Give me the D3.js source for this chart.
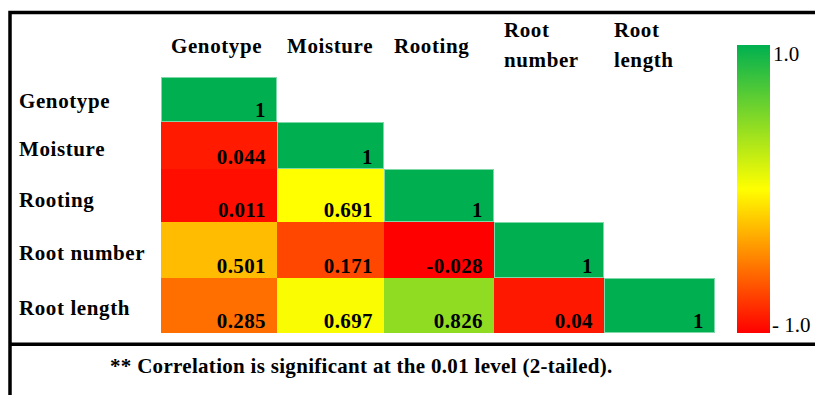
<!DOCTYPE html>
<html>
<head>
<meta charset="utf-8">
<script src="https://d3js.org/d3.v7.min.js"></script>
<style>
  body { margin: 0; background: white; }
  svg { font-family: 'Liberation Serif', 'Times New Roman', serif; }
  .lbl { font-size: 21px; font-weight: bold; fill: black; letter-spacing: 0.6px; }
  .val { font-size: 21px; font-weight: bold; fill: black; text-anchor: end; letter-spacing: 0.4px; }
  .note { font-size: 21px; font-weight: bold; fill: black; letter-spacing: 0.3px; }
</style>
</head>
<body>
<svg width="815" height="395"></svg>
<script>
// variables (rows and columns)
var vars = ["Genotype", "Moisture", "Rooting", "Root number", "Root length"];
// header text, split on two lines where the picture does
var headers = [["Genotype"], ["Moisture"], ["Rooting"], ["Root", "number"], ["Root", "length"]];
// lower triangle of the correlation matrix, row by row
var corr = [
  [1],
  [0.044, 1],
  [0.011, 0.691, 1],
  [0.501, 0.171, -0.028, 1],
  [0.285, 0.697, 0.826, 0.04, 1]
];
var legendTicks = ["1.0", "- 1.0"];
var footnote = "** Correlation is significant at the 0.01 level (2-tailed).";

var svg = d3.select("svg");

// frame
svg.append("rect").attr("x", 10).attr("y", 12.5).attr("width", 900).attr("height", 500)
  .attr("fill", "none").attr("stroke", "black").attr("stroke-width", 3.5);
svg.append("line").attr("x1", 10).attr("x2", 815).attr("y1", 344.3).attr("y2", 344.3)
  .attr("stroke", "black").attr("stroke-width", 3.5);

// cell layout
var x = d3.scaleOrdinal().domain(vars).range([161, 277, 384, 494, 604]);
var xEnd = d3.scaleOrdinal().domain(vars).range([277, 384, 494, 604, 715]);
var y = d3.scaleOrdinal().domain(vars).range([77, 122, 169, 222, 278]);
var yEnd = d3.scaleOrdinal().domain(vars).range([122, 169, 222, 278, 333]);

// Excel-like 3 colour scale: min, median, max
var all = corr.flat();
var color = d3.scaleLinear()
  .domain([d3.min(all), d3.median(all), d3.max(all)])
  .range(["#ff0000", "#ffff00", "#00b050"]);

var cells = [];
corr.forEach(function (row, i) {
  row.forEach(function (v, j) {
    cells.push({ r: vars[i], c: vars[j], v: v });
  });
});

var g = svg.append("g");
g.selectAll("rect.cell").data(cells).enter().append("rect")
  .attr("class", "cell")
  .attr("x", function (d) { return x(d.c); })
  .attr("y", function (d) { return y(d.r); })
  .attr("width", function (d) { return xEnd(d.c) - x(d.c); })
  .attr("height", function (d) { return yEnd(d.r) - y(d.r); })
  .attr("fill", function (d) { return color(d.v); });

// light edge round the diagonal cells
g.selectAll("rect.edge").data(cells.filter(function (d) { return d.r === d.c; })).enter().append("rect")
  .attr("class", "edge")
  .attr("x", function (d) { return x(d.c) + 0.5; })
  .attr("y", function (d) { return y(d.r) + 0.5; })
  .attr("width", function (d) { return xEnd(d.c) - x(d.c) - 1; })
  .attr("height", function (d) { return yEnd(d.r) - y(d.r) - 1; })
  .attr("fill", "none").attr("stroke", "#7fd8a7").attr("stroke-width", 1);

g.selectAll("text.val").data(cells).enter().append("text")
  .attr("class", "val")
  .attr("x", function (d) { return xEnd(d.c) - 11; })
  .attr("y", function (d) { return yEnd(d.r) - 5; })
  .text(function (d) { return d.v; });

// row labels
var rowBase = d3.scaleOrdinal().domain(vars).range([108, 156, 207, 260, 315]);
svg.selectAll("text.row").data(vars).enter().append("text")
  .attr("class", "lbl")
  .attr("x", 19)
  .attr("y", function (d) { return rowBase(d); })
  .text(function (d) { return d; });

// column headers
headers.forEach(function (lines, j) {
  var t = svg.append("text").attr("class", "lbl")
    .attr("x", x(vars[j]) + 10)
    .attr("y", lines.length === 1 ? 53 : 37);
  lines.forEach(function (s, k) {
    t.append("tspan").attr("x", x(vars[j]) + 10).attr("dy", k === 0 ? 0 : 30).text(s);
  });
});

// legend
var defs = svg.append("defs");
var grad = defs.append("linearGradient").attr("id", "lg")
  .attr("x1", 0).attr("y1", 1).attr("x2", 0).attr("y2", 0);
var stops = color.domain();
grad.selectAll("stop").data([0, 0.5, 1]).enter().append("stop")
  .attr("offset", function (d) { return d; })
  .attr("stop-color", function (d, i) { return color(stops[i]); });

var ly = d3.scaleLinear().domain([-1, 1]).range([333, 45]);
svg.append("rect").attr("x", 737).attr("y", ly(1)).attr("width", 33)
  .attr("height", ly(-1) - ly(1)).attr("fill", "url(#lg)");
svg.selectAll("text.leg").data(legendTicks).enter().append("text")
  .attr("class", "lbl")
  .style("font-weight", "normal")
  .style("letter-spacing", "0px")
  .attr("x", function (d, i) { return i === 0 ? 773 : 772; })
  .attr("y", function (d, i) { return i === 0 ? ly(1) + 16 : ly(-1) - 1; })
  .text(function (d) { return d; });

// footnote
svg.append("text").attr("class", "note")
  .attr("x", 110).attr("y", 373)
  .text(footnote);
</script>
</body>
</html>
